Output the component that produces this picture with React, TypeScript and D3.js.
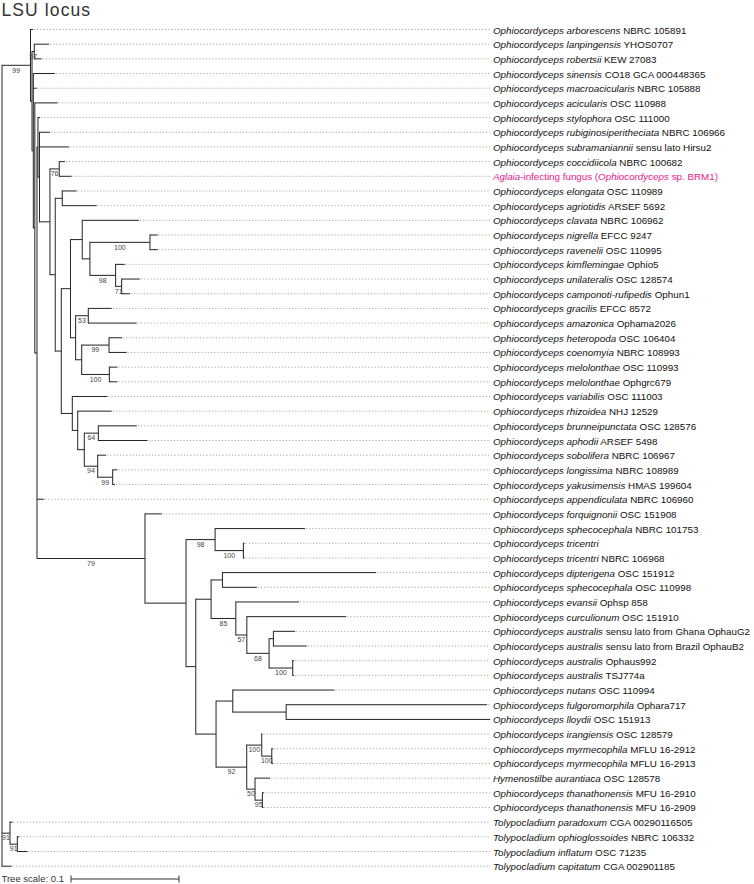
import React, { useMemo } from "react";
import * as d3 from "d3";

// ---------- DATA ----------
const TITLE = "LSU locus";
const SCALE_LABEL = "Tree scale: 0.1";
const SCALE_VALUE = 0.1;

// leaf labels, *...* marks italic parts; index i corresponds to leaf Li in the tree
const TAXA: string[] = [
  "*Ophiocordyceps arborescens* NBRC 105891",
  "*Ophiocordyceps lanpingensis* YHOS0707",
  "*Ophiocordyceps robertsii* KEW 27083",
  "*Ophiocordyceps sinensis* CO18 GCA 000448365",
  "*Ophiocordyceps macroacicularis* NBRC 105888",
  "*Ophiocordyceps acicularis* OSC 110988",
  "*Ophiocordyceps stylophora* OSC 111000",
  "*Ophiocordyceps rubiginosiperitheciata* NBRC 106966",
  "*Ophiocordyceps subramaniannii* sensu lato Hirsu2",
  "*Ophiocordyceps coccidiicola* NBRC 100682",
  "*Aglaia*-infecting fungus (*Ophiocordyceps* sp. BRM1)",
  "*Ophiocordyceps elongata* OSC 110989",
  "*Ophiocordyceps agriotidis* ARSEF 5692",
  "*Ophiocordyceps clavata* NBRC 106962",
  "*Ophiocordyceps nigrella* EFCC 9247",
  "*Ophiocordyceps ravenelii* OSC 110995",
  "*Ophiocordyceps kimflemingae* Ophio5",
  "*Ophiocordyceps unilateralis* OSC 128574",
  "*Ophiocordyceps camponoti-rufipedis* Ophun1",
  "*Ophiocordyceps gracilis* EFCC 8572",
  "*Ophiocordyceps amazonica* Ophama2026",
  "*Ophiocordyceps heteropoda* OSC 106404",
  "*Ophiocordyceps coenomyia* NBRC 108993",
  "*Ophiocordyceps melolonthae* OSC 110993",
  "*Ophiocordyceps melolonthae* Ophgrc679",
  "*Ophiocordyceps variabilis* OSC 111003",
  "*Ophiocordyceps rhizoidea* NHJ 12529",
  "*Ophiocordyceps brunneipunctata* OSC 128576",
  "*Ophiocordyceps aphodii* ARSEF 5498",
  "*Ophiocordyceps sobolifera* NBRC 106967",
  "*Ophiocordyceps longissima* NBRC 108989",
  "*Ophiocordyceps yakusimensis* HMAS 199604",
  "*Ophiocordyceps appendiculata* NBRC 106960",
  "*Ophiocordyceps forquignonii* OSC 151908",
  "*Ophiocordyceps sphecocephala* NBRC 101753",
  "*Ophiocordyceps tricentri*",
  "*Ophiocordyceps tricentri* NBRC 106968",
  "*Ophiocordyceps dipterigena* OSC 151912",
  "*Ophiocordyceps sphecocephala* OSC 110998",
  "*Ophiocordyceps evansii* Ophsp 858",
  "*Ophiocordyceps curculionum* OSC 151910",
  "*Ophiocordyceps australis* sensu lato from Ghana OphauG2",
  "*Ophiocordyceps australis* sensu lato from Brazil OphauB2",
  "*Ophiocordyceps australis* Ophaus992",
  "*Ophiocordyceps australis* TSJ774a",
  "*Ophiocordyceps nutans* OSC 110994",
  "*Ophiocordyceps fulgoromorphila* Ophara717",
  "*Ophiocordyceps lloydii* OSC 151913",
  "*Ophiocordyceps irangiensis* OSC 128579",
  "*Ophiocordyceps myrmecophila* MFLU 16-2912",
  "*Ophiocordyceps myrmecophila* MFLU 16-2913",
  "*Hymenostilbe aurantiaca* OSC 128578",
  "*Ophiocordyceps thanathonensis* MFU 16-2910",
  "*Ophiocordyceps thanathonensis* MFU 16-2909",
  "*Tolypocladium paradoxum* CGA 00290116505",
  "*Tolypocladium ophioglossoides* NBRC 106332",
  "*Tolypocladium inflatum* OSC 71235",
  "*Tolypocladium capitatum* CGA 002901185",
];
const HIGHLIGHTED = [10];

// tree topology (Newick pieces, branch lengths in substitutions/site, node labels = bootstrap)
const UNILATERALIS_CLADE =
  "(L13:0.0525,((L14:0.0074,L15:0.0074)100:0.0556,(L16:0.0086,(L17:0.0169,L18:0.0077)71:0.0056)98:0.0238):0.0071)";
const HETEROPODA_CLADE =
  "((L19:0.0217,L20:0.0448)53:0.0117,((L21:0.0120,L22:0.0164)99:0.0253,(L23:0.0074,L24:0.0074)100:0.0256):0.0056)";
const SOBOLIFERA_CLADE =
  "(L25:0.0324,(L26:0.0315,((L27:0.0356,L28:0.0454)64:0.0130,(L29:0.0077,(L30:0.0043,L31:0.0021)99:0.0139)94:0.0124):0.0061):0.0050)";
const SPHECOCEPHALA_CLADE =
  "((L34:0.0833,(L35:0.0011,L36:0.0011)100:0.0262)98:0.0269,(((L37:0.1423,L38:0.0319):0.0105,(L39:0.0586,(L40:0.0919,((L41:0.0201,L42:0.0309):0.0040,(L43:0.0012,L44:0.0012)100:0.0219)68:0.0206)57:0.0102)85:0.0229):0.0142,((L45:0.0941,(L46:0.1861,L47:0.1889):0.0494):0.0155,((L48:0.0007,(L49:0.0012,L50:0.0012)100:0.0093)100:0.0139,(L51:0.0139,(L52:0.0016,L53:0.0011)95:0.0068)50:0.0077)92:0.0284):0.0188):0.0090)";
const OUTGROUP_CLADE = "(L54:0.0025,(L55:0.0019,L56:0.0093)91:0.0068)91";

const Q_CLADE = `((${UNILATERALIS_CLADE}:0.0109,${HETEROPODA_CLADE}:0.0048):0.0085,${SOBOLIFERA_CLADE}:0.0102)`;
const HH_CLADE = `((L9:0.0053,L10:0.0115)76:0.0086,((L11:0.0133,L12:0.0319):0.0065,${Q_CLADE}:0.0056):0.0049)`;
const K1_CLADE = `(L6:0.0019,(L7:0.0097,L8:0.0273,${HH_CLADE}:0.0097):0.0014)`;
const C79_CLADE = `(L33:0.0155,${SPHECOCEPHALA_CLADE}:0.0380)79`;
const KK_CLADE = `(${K1_CLADE}:0.0009,L32:0.0065,${C79_CLADE}:0.1000)`;
const INGROUP_CLADE = `(L0:0.0023,((L1:0.0136,L2:0.0069)57:0.0021,(L3:0.0201,L4:0.0031,(L5:0.0212,${KK_CLADE}:0.0020):0.0014):0.0012):0.0014)99`;
const TREE_NEWICK = `(${INGROUP_CLADE}:0.0264,${OUTGROUP_CLADE}:0.0074,L57:0.0090);`;

// ---------- LAYOUT CONSTANTS ----------
const W = 754;
const H = 884;
const ROOT_X = 2;
const SCALE_PX = 108; // px for 0.1
const FIRST_Y = 29.5;
const LAST_Y = 866.2;
const LABEL_X = 493;
const FONT = "'Liberation Sans', Arial, Helvetica, sans-serif";

type PNode = { name: string; length: number; children: PNode[] };

function parseNewick(s: string): PNode {
  let i = 0;
  const node = (): PNode => {
    const n: PNode = { name: "", length: 0, children: [] };
    if (s[i] === "(") {
      i++;
      n.children.push(node());
      while (s[i] === ",") {
        i++;
        n.children.push(node());
      }
      i++; // ')'
    }
    let name = "";
    while (i < s.length && !",():;".includes(s[i])) name += s[i++];
    n.name = name.trim();
    if (s[i] === ":") {
      i++;
      let l = "";
      while (i < s.length && !",();".includes(s[i])) l += s[i++];
      n.length = +l;
    }
    return n;
  };
  return node();
}

function LabelText({ text, x, y, color }: { text: string; x: number; y: number; color: string }) {
  const parts = text.split("*");
  return (
    <text x={x} y={y} fontSize={9.8} fontFamily={FONT} fill={color} dominantBaseline="central" style={{ whiteSpace: "pre" }}>
      {parts.map((p, k) =>
        p === "" ? null : (
          <tspan key={k} fontStyle={k % 2 === 1 ? "italic" : "normal"}>
            {p}
          </tspan>
        )
      )}
    </text>
  );
}

export default function App() {
  const layout = useMemo(() => {
    const root = d3.hierarchy<PNode>(parseNewick(TREE_NEWICK), (d) => (d.children.length ? d.children : null));
    const xScale = d3.scaleLinear().domain([0, SCALE_VALUE]).range([ROOT_X, ROOT_X + SCALE_PX]);
    const yScale = d3.scaleLinear().domain([0, TAXA.length - 1]).range([FIRST_Y, LAST_Y]);
    const pos = new Map<any, { x: number; y: number; len: number }>();
    root.eachBefore((d: any) => {
      const len = (d.parent ? pos.get(d.parent)!.len : 0) + (d.parent ? d.data.length : 0);
      pos.set(d, { x: xScale(len), y: 0, len });
    });
    root.eachAfter((d: any) => {
      const p = pos.get(d)!;
      if (d.children) {
        p.y = (pos.get(d.children[0])!.y + pos.get(d.children[d.children.length - 1])!.y) / 2;
      } else {
        p.y = yScale(parseInt(d.data.name.slice(1), 10));
      }
    });
    const nodes = root.descendants();
    const leaves = root.leaves();
    const maxX = d3.max(leaves, (l: any) => pos.get(l)!.x) as number;
    return { root, nodes, leaves, pos, maxX, xScale };
  }, []);

  const { nodes, leaves, pos, maxX, xScale } = layout;
  const lineColor = "#222";
  const barLen = xScale(SCALE_VALUE) - xScale(0);

  return (
    <svg width={W} height={H} style={{ position: "absolute", left: 0, top: 0, background: "#fff", display: "block" }}>
      <text x={1.5} y={15.5} fontSize={17.5} letterSpacing={1.1} fontFamily={FONT} fill="#333">
        {TITLE}
      </text>

      {/* dashed leaf extensions */}
      {leaves.map((l: any, k: number) => {
        const p = pos.get(l)!;
        if (maxX - p.x < 1) return null;
        return (
          <line key={"d" + k} x1={p.x + 1} x2={maxX} y1={p.y} y2={p.y} stroke="#a8a8a8" strokeWidth={1} strokeDasharray="1.2 2" />
        );
      })}

      {/* horizontal branches */}
      {nodes.map((d: any, k: number) => {
        if (!d.parent) return null;
        const p = pos.get(d)!;
        const pp = pos.get(d.parent)!;
        return <line key={"h" + k} x1={pp.x} x2={p.x} y1={p.y} y2={p.y} stroke={lineColor} strokeWidth={1} />;
      })}

      {/* vertical connectors */}
      {nodes.map((d: any, k: number) => {
        if (!d.children) return null;
        const p = pos.get(d)!;
        const y1 = pos.get(d.children[0])!.y;
        const y2 = pos.get(d.children[d.children.length - 1])!.y;
        return <line key={"v" + k} x1={p.x} x2={p.x} y1={y1 - 0.5} y2={y2 + 0.5} stroke={lineColor} strokeWidth={1} />;
      })}

      {/* bootstrap values */}
      {nodes.map((d: any, k: number) => {
        if (!d.children || !d.parent || !d.data.name) return null;
        const p = pos.get(d)!;
        const pp = pos.get(d.parent)!;
        return (
          <text key={"b" + k} x={(p.x + pp.x) / 2} y={p.y + 7.3} fontSize={7} fontFamily={FONT} fill="#444" textAnchor="middle">
            {d.data.name}
          </text>
        );
      })}

      {/* leaf labels */}
      {leaves.map((l: any, k: number) => {
        const idx = parseInt(l.data.name.slice(1), 10);
        const p = pos.get(l)!;
        return (
          <LabelText key={"t" + k} text={TAXA[idx]} x={LABEL_X} y={p.y} color={HIGHLIGHTED.includes(idx) ? "#e8178a" : "#111"} />
        );
      })}

      {/* tree scale */}
      <text x={1.5} y={882} fontSize={9.5} fontFamily={FONT} fill="#333">
        {SCALE_LABEL}
      </text>
      <g stroke="#333" strokeWidth={1}>
        <line x1={71} x2={71 + barLen} y1={879} y2={879} />
        <line x1={71} x2={71} y1={875.5} y2={882.5} />
        <line x1={71 + barLen} x2={71 + barLen} y1={875.5} y2={882.5} />
      </g>
    </svg>
  );
}
